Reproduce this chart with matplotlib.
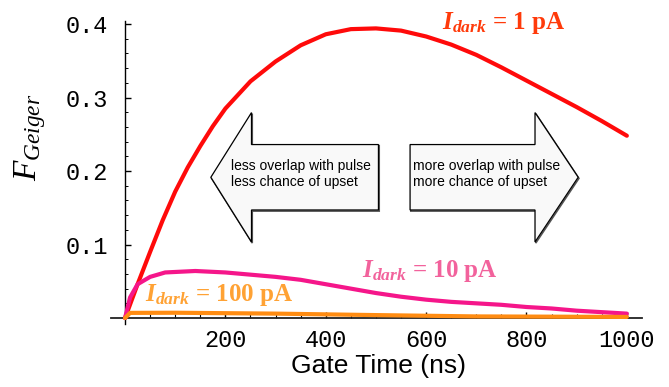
import numpy as np
import matplotlib.pyplot as plt
from matplotlib.patches import Polygon

plt.rcParams['mathtext.fontset'] = 'custom'
plt.rcParams['mathtext.it'] = 'Liberation Serif:italic'
plt.rcParams['mathtext.rm'] = 'Liberation Serif'
plt.rcParams['mathtext.bfit'] = 'Liberation Serif:italic:bold'

# gate time (ns) and F_Geiger for three dark currents
t_1pA = [0, 25, 50, 75, 100, 125, 150, 175, 200, 250, 300, 350, 400, 450, 500,
         550, 600, 650, 700, 750, 800, 850, 900, 950, 1000]
f_1pA = [0, 0.046, 0.09, 0.133, 0.172, 0.205, 0.234, 0.261, 0.285, 0.322, 0.349,
         0.371, 0.386, 0.393, 0.394, 0.391, 0.383, 0.372, 0.358, 0.341, 0.323,
         0.305, 0.287, 0.268, 0.248]

t_10pA = [0, 10, 25, 50, 80, 140, 200, 250, 300, 350, 400, 450, 500, 550, 600,
          650, 700, 750, 800, 850, 900, 950, 1000]
f_10pA = [0, 0.028, 0.046, 0.056, 0.062, 0.064, 0.062, 0.059, 0.056, 0.052, 0.046,
          0.040, 0.034, 0.029, 0.025, 0.022, 0.020, 0.018, 0.015, 0.013, 0.010,
          0.008, 0.006]

t_100pA = [0, 10, 100, 300, 500, 700, 1000]
f_100pA = [0, 0.007, 0.0072, 0.006, 0.004, 0.0022, 0.0015]

x_ticks = [200, 400, 600, 800, 1000]
y_ticks = [0.1, 0.2, 0.3, 0.4]

fig = plt.figure(figsize=(6.69, 3.87), dpi=100)
ax = fig.add_axes([0.1644, 0.1687, 0.8026, 0.7788])

lw = 3.0
ax.plot(t_1pA, f_1pA, color='#ff0a0a', lw=lw, solid_joinstyle='round', solid_capstyle='round', zorder=3)
ax.plot(t_10pA, f_10pA, color='#f5168a', lw=lw, solid_joinstyle='round', solid_capstyle='round', zorder=4)
ax.plot(t_100pA, f_100pA, color='#ff8c12', lw=lw, solid_joinstyle='round', solid_capstyle='round', zorder=5)

ax.set_xlim(-30, 1040)
ax.set_ylim(-0.005, 0.405)

for s in ['top', 'right']:
    ax.spines[s].set_visible(False)
ax.spines['left'].set_position(('data', 0))
ax.spines['bottom'].set_position(('data', 0))
ax.spines['left'].set_bounds(-0.008, 0.404)
ax.spines['bottom'].set_bounds(-28, 1030)
ax.spines['left'].set_linewidth(1.0)
ax.spines['bottom'].set_linewidth(1.3)
ax.spines['bottom'].set_color('#222222')

ax.set_xticks(x_ticks)
ax.set_xticks(np.arange(50, 1001, 50), minor=True)
ax.set_yticks(y_ticks)
ax.set_yticks(np.arange(0.02, 0.401, 0.02), minor=True)
ax.set_xticklabels([str(v) for v in x_ticks], family='Liberation Mono', fontsize=17)
ax.set_yticklabels([f'{v:.1f}' for v in y_ticks], family='Liberation Mono', fontsize=17)
ax.tick_params(axis='x', which='major', direction='in', length=4, width=1, pad=8)
ax.tick_params(axis='x', which='minor', direction='in', length=3, width=0.8)
ax.tick_params(axis='y', which='major', direction='in', length=4, width=1, pad=12)
ax.tick_params(axis='y', which='minor', direction='in', length=2, width=0.7)

ax.set_xlabel('Gate Time (ns)', family='Liberation Sans', fontsize=19, labelpad=1)
fig.text(0.045, 0.645, r'$F_{Geiger}$', rotation=90, fontsize=24, ha='center', va='center')


def block_arrow(x0, x1, xh, tip, yc, half_shaft, half_head, right):
    if right:
        pts = [(x0, yc - half_shaft), (x0, yc + half_shaft), (xh, yc + half_shaft),
               (xh, yc + half_head), (tip, yc), (xh, yc - half_head), (xh, yc - half_shaft)]
    else:
        pts = [(x1, yc - half_shaft), (x1, yc + half_shaft), (xh, yc + half_shaft),
               (xh, yc + half_head), (tip, yc), (xh, yc - half_head), (xh, yc - half_shaft)]
    shadow = Polygon([(px + 1.5, py - 0.0015) for px, py in pts], closed=True,
                     facecolor='none', edgecolor='#555555', lw=1.2, zorder=1)
    body = Polygon(pts, closed=True, facecolor='#f9f9f9', edgecolor='black', lw=0.9, zorder=2)
    ax.add_patch(shadow)
    ax.add_patch(body)


block_arrow(None, 505, 252, 171, 0.1915, 0.0445, 0.088, right=False)
block_arrow(568, None, 817, 903, 0.1915, 0.0445, 0.088, right=True)

ax.text(212, 0.1955, 'less overlap with pulse\nless chance of upset', family='Liberation Sans',
        fontsize=10, ha='left', va='center', linespacing=1.2, zorder=6)
ax.text(573, 0.1955, 'more overlap with pulse\nmore chance of upset', family='Liberation Sans',
        fontsize=10, ha='left', va='center', linespacing=1.2, zorder=6)

lab = dict(family='Liberation Serif', weight='bold', fontsize=18, ha='left', va='baseline', clip_on=False, zorder=7)
ax.text(632, 0.393, r'$\mathbfit{I}_{\mathbfit{dark}}$ = 1 pA', color='#ff3a0a', **lab)
ax.text(473, 0.0562, r'$\mathbfit{I}_{\mathbfit{dark}}$ = 10 pA', color='#f2629c', **lab)
ax.text(40, 0.0236, r'$\mathbfit{I}_{\mathbfit{dark}}$ = 100 pA', color='#ffa234', **lab)

fig.savefig('out.png', dpi=100)
